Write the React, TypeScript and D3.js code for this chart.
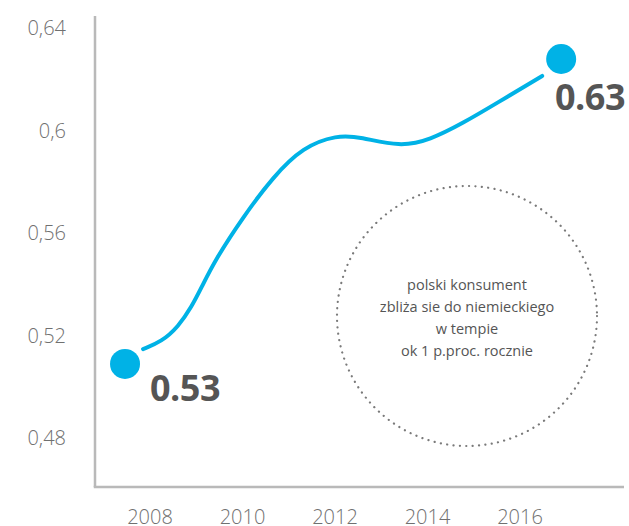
import React from "react";
import * as d3 from "d3";

const W = 629;
const H = 526;

// y-axis tick values and labels
const yTicks = [0.64, 0.6, 0.56, 0.52, 0.48];
const yTickLabels = ["0,64", "0,6", "0,56", "0,52", "0,48"];
// x-axis ticks
const xTicks = [2008, 2010, 2012, 2014, 2016];

// curve (year, value)
const curveYears = [2007.85, 2008.25, 2008.61, 2008.9, 2009.12, 2009.41, 2010.01, 2010.66, 2011.31, 2012.04, 2012.54, 2013.41, 2014.05, 2014.77, 2015.5, 2016.48];
const curveValues = [0.5147, 0.5176, 0.5234, 0.5312, 0.539, 0.5495, 0.5662, 0.5819, 0.5936, 0.5982, 0.5975, 0.5936, 0.5963, 0.6029, 0.6107, 0.6213];

// end markers
const markerYears = [2007.46, 2016.89];
const markerValues = [0.5089, 0.6279];
const markerLabels = ["0.53", "0.63"];

// annotation
const noteLines = ["polski konsument", "zbliża sie do niemieckiego", "w tempie", "ok 1 p.proc. rocznie"];

const FONT = "'Open Sans', 'DejaVu Sans', sans-serif";
const BLUE = "#00b2e6";
const AXIS = "#b9b9b9";

export default function App() {
  const x = d3.scaleLinear().domain([2008, 2016]).range([150, 520]);
  const y = d3.scaleLinear().domain([0.48, 0.64]).range([438, 28]);

  const pts: [number, number][] = curveYears.map((yr, i) => [x(yr), y(curveValues[i])]);
  const line = d3.line<[number, number]>().x((d) => d[0]).y((d) => d[1]).curve(d3.curveBasis);
  const path = line(pts) || "";

  const axisLeft = 95;
  const axisBottom = 487;

  const circle = { cx: 467, cy: 316, r: 130 };

  return (
    <svg width={W} height={H} style={{ position: "absolute", left: 0, top: 0, background: "#fff" }}>
      {/* axes */}
      <line x1={axisLeft} y1={16} x2={axisLeft} y2={axisBottom} stroke={AXIS} strokeWidth={2.5} />
      <line x1={axisLeft - 1.25} y1={axisBottom} x2={624} y2={axisBottom} stroke={AXIS} strokeWidth={2.5} />

      {/* y tick labels */}
      {yTicks.map((t, i) => (
        <text key={t} x={66} y={y(t)} dy="0.35em" textAnchor="end" fontFamily={FONT} fontWeight={300} fontSize={20} fill="#707070">
          {yTickLabels[i]}
        </text>
      ))}

      {/* x tick labels */}
      {xTicks.map((t) => (
        <text key={t} x={x(t)} y={524} textAnchor="middle" fontFamily={FONT} fontWeight={300} fontSize={20} fill="#707070">
          {t}
        </text>
      ))}

      {/* dotted circle annotation */}
      <circle cx={circle.cx} cy={circle.cy} r={circle.r} fill="none" stroke="#7a7a7a" strokeWidth={2.2} strokeDasharray="0.1 6.3" strokeLinecap="round" />
      {noteLines.map((l, i) => (
        <text key={i} x={circle.cx} y={285 + i * 22} dy="0.35em" textAnchor="middle" fontFamily={FONT} fontSize={14.5} fill="#555">
          {l}
        </text>
      ))}

      {/* curve */}
      <path d={path} fill="none" stroke={BLUE} strokeWidth={4} strokeLinecap="round" />

      {/* markers */}
      {markerYears.map((yr, i) => (
        <circle key={yr} cx={x(yr)} cy={y(markerValues[i])} r={15} fill={BLUE} />
      ))}
      <text x={150} y={401} fontFamily={FONT} fontWeight={700} fontSize={36} fill="#555" letterSpacing={-0.5}>
        {markerLabels[0]}
      </text>
      <text x={555} y={110} fontFamily={FONT} fontWeight={700} fontSize={36} fill="#555" letterSpacing={-0.5}>
        {markerLabels[1]}
      </text>
    </svg>
  );
}
